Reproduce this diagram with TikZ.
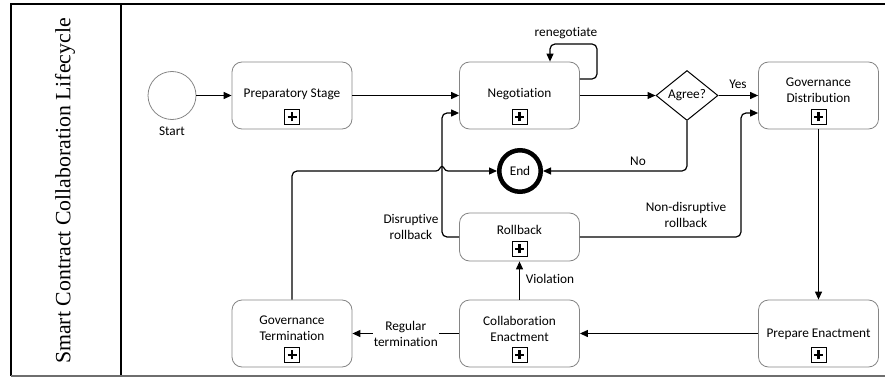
\documentclass[tikz,border=0pt]{standalone}
\usepackage{fontspec}
\setmainfont{Carlito}[Ligatures=NoCommon]
\newfontfamily\titlefont{Liberation Serif}
\usetikzlibrary{arrows.meta,shapes.geometric}
\definecolor{boxgray}{HTML}{858585}
\definecolor{rulegray}{HTML}{6E6E6E}
\begin{document}
\begin{tikzpicture}[x=1pt,y=-1pt,
  every node/.style={font=\fontsize{13.3}{16}\selectfont, inner sep=0pt},
  task/.style={draw=boxgray, line width=0.8pt, rounded corners=10pt,
    minimum width=120pt, minimum height=67pt},
  lbl/.style={align=center},
  plusbox/.style={draw=black, line width=0.9pt, minimum size=15pt,
    path picture={\draw[line width=2.2pt]
      ([xshift=-4.5pt]path picture bounding box.center) -- ([xshift=4.5pt]path picture bounding box.center)
      ([yshift=-4.5pt]path picture bounding box.center) -- ([yshift=4.5pt]path picture bounding box.center);}},
  conn/.style={draw=black, line width=1.2pt},
  flow/.style={conn, -{Triangle[length=8pt,width=7pt]}},
]
\useasboundingbox (0,0) rectangle (885,377);

% pool frame and lane header
\draw[line width=1.2pt] (885,4) -- (11,4) -- (11,376);
\draw[line width=1.2pt] (121,4) -- (121,376);
\draw[rulegray, line width=1.2pt] (11,376) -- (885,376);
\node[rotate=90, font=\titlefont\fontsize{21.8}{24}\selectfont] (title) at (65,191)
  {Smart Contract Collaboration Lifecycle};

% events and gateway
\node[circle, draw=boxgray, line width=0.8pt, minimum size=48pt] (start) at (172,95.5) {};
\node (startlbl) at (172,131) {Start};
\node[circle, draw=black, line width=4.5pt, minimum size=41.5pt] (end) at (520,171) {End};
\node[diamond, draw=black, line width=1pt, minimum width=62pt, minimum height=50pt, shape aspect=1.24] (agree) at (687,95.5) {Agree?};

% sub-process tasks
\node[task] (prep) at (292,95.5) {};
\node[task] (neg) at (519.5,95.5) {};
\node[task] (govdist) at (818.5,95.5) {};
\node[task, minimum height=48pt] (rollback) at (519.5,237) {};
\node[task] (coll) at (519.5,333.5) {};
\node[task] (govterm) at (292,333.5) {};
\node[task] (prepenact) at (818.5,333.5) {};

\node[lbl] (preptxt) at ([yshift=1pt]prep.center) {Preparatory Stage};
\node[lbl] (negtxt) at ([yshift=1pt]neg.center) {Negotiation};
\node[lbl] (govdisttxt) at ([yshift=5pt]govdist.center) {Governance\\Distribution};
\node[lbl] (rollbacktxt) at ([yshift=7pt]rollback.center) {Rollback};
\node[lbl] (colltxt) at ([yshift=5pt]coll.center) {Collaboration\\Enactment};
\node[lbl] (govtermtxt) at ([yshift=5pt]govterm.center) {Governance\\Termination};
\node[lbl] (prepenacttxt) at ([yshift=-0.5pt]prepenact.center) {Prepare Enactment};

\foreach \t in {prep,neg,govdist,rollback,coll,govterm,prepenact}
  \node[plusbox] (\t-plus) at ([yshift=12.5pt]\t.south) {};

% sequence flows
\draw[flow] (start) -- (prep);
\draw[flow] (prep) -- (neg);
\draw[flow] (neg) -- (agree);
\draw[flow] (agree) -- (govdist);
\node (yes) at (738,84) {Yes};

\coordinate (reneg) at (597,44);
\draw[flow, rounded corners=5pt] (neg.east |- 0,79) -| (reneg) -| ([xshift=30.5pt]neg.north);
\node (reneglbl) at (566,33) {renegotiate};

\draw[flow, rounded corners=5pt] (agree.south) |- (end.east);
\node (no) at (638,161) {No};

\coordinate (hopL) at (436,171);
\coordinate (hopR) at (448,171);
\draw[conn, rounded corners=5pt] (govterm.north) |- (hopL);
\draw[flow] (hopL) .. controls (440,171) and (439.5,166.5) .. (442,166.5)
  .. controls (444.5,166.5) and (444,171) .. (hopR) -- (end.west);

\draw[flow, rounded corners=5pt] (rollback.west) -- (442,237) -- (442,113) -- (neg.west |- 0,113);
\node[lbl] (disr) at (411,227) {Disruptive\\rollback};

\draw[flow, rounded corners=5pt] (rollback.east) -- (741,237) -- (741,113) -- (govdist.west |- 0,113);
\node[lbl] (nondisr) at (686,215) {Non-disruptive\\rollback};

\draw[flow] (coll) -- (rollback);
\node (viol) at (550,279) {Violation};

\draw[flow] (coll) -- node[lbl, fill=white, inner xsep=1pt, inner ysep=1pt] (regular) {Regular\\termination} (govterm);
\draw[flow] (govdist) -- (prepenact);
\draw[flow] (prepenact) -- (coll);
\end{tikzpicture}
\end{document}
